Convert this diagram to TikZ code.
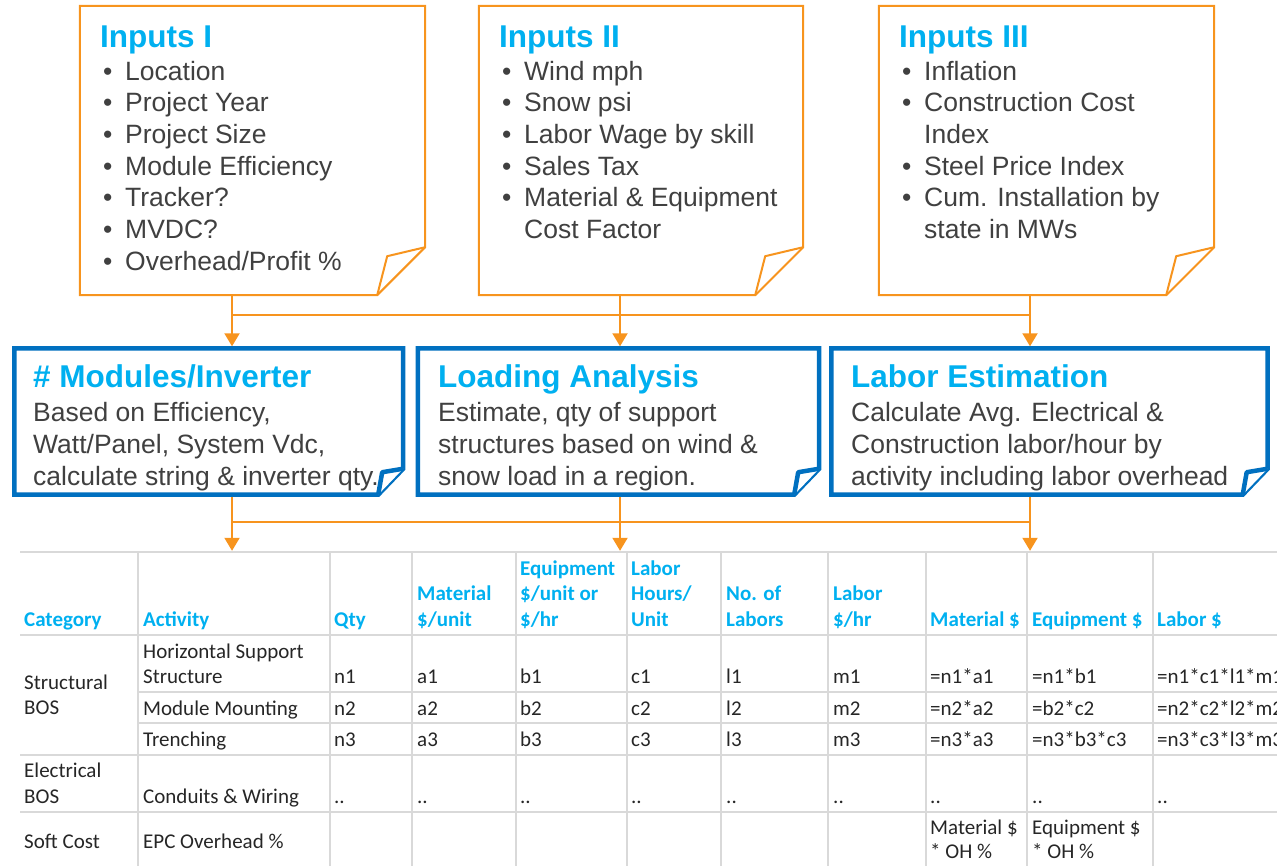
\documentclass[tikz,border=0pt]{standalone}
\usepackage{fontspec}
\setmainfont{Liberation Sans}
\newfontfamily\tablefont{Carlito}
\usetikzlibrary{arrows.meta,fit}

\definecolor{orangeline}{RGB}{247,148,30}
\definecolor{boxblue}{RGB}{0,112,192}
\definecolor{titlecyan}{RGB}{0,176,240}
\definecolor{bodygray}{RGB}{64,64,64}
\definecolor{gridgray}{RGB}{217,217,217}
\definecolor{celltext}{RGB}{38,38,38}

\newcommand\bul{\makebox[22pt][l]{•}}

\tikzset{
  region/.style={inner sep=0pt, draw=none},
  notebox/.style={draw=orangeline, line width=2pt, fill=white, line join=miter},
  notefold/.style={draw=orangeline, line width=2pt, line join=round},
  procbox/.style={draw=boxblue, line width=4.5pt, fill=white, line join=miter},
  procfold/.style={draw=boxblue, line width=4.5pt, line join=round},
  conn/.style={draw=orangeline, line width=2pt},
  arr/.style={conn, -{Triangle[width=15pt,length=13pt]}},
  gridline/.style={draw=gridgray, line width=2pt},
  boxtitle/.style={anchor=base west, inner sep=0pt, text=titlecyan,
    font=\fontsize{31.5}{36}\selectfont\bfseries},
  item/.style={anchor=base west, inner sep=0pt, text=bodygray,
    font=\fontsize{26.5}{31.7}\selectfont},
  hd/.style={anchor=base west, inner sep=0pt, text=titlecyan,
    font=\tablefont\fontsize{21}{25.5}\selectfont\bfseries},
  td/.style={anchor=base west, inner sep=0pt, text=celltext,
    font=\tablefont\fontsize{21}{25.5}\selectfont},
}

\begin{document}
\begin{tikzpicture}[x=1pt,y=-1pt]
\useasboundingbox (0,0) rectangle (1277,865);
\clip (0,0) rectangle (1277,865);

% ---------- input notes ----------
\node[region, fit={(80,6) (425,295)}] (in1) {};
\node[region, fit={(479,6) (803,295)}] (in2) {};
\node[region, fit={(879,6) (1214,295)}] (in3) {};

\foreach \b in {in1,in2,in3}{
  \draw[notebox] (\b.north west) -- (\b.north east)
    -- ([yshift=48pt]\b.south east) -- ([xshift=-48pt]\b.south east)
    -- (\b.south west) -- cycle;
  \draw[notefold] ([yshift=48pt]\b.south east)
    -- ([xshift=-38pt,yshift=39pt]\b.south east)
    -- ([xshift=-48pt]\b.south east);
}

\node[boxtitle] (t1) at (100,47) {Inputs I};
\node[item] (i11) at (103,80)    {\bul Location};
\node[item] (i12) at (103,111.7) {\bul Project Year};
\node[item] (i13) at (103,143.4) {\bul Project Size};
\node[item] (i14) at (103,175.1) {\bul Module Efficiency};
\node[item] (i15) at (103,206.8) {\bul Tracker?};
\node[item] (i16) at (103,238.5) {\bul MVDC?};
\node[item] (i17) at (103,270.2) {\bul Overhead/Profit \%};

\node[boxtitle] (t2) at (499,47) {Inputs II};
\node[item] (i21) at (502,80)    {\bul Wind mph};
\node[item] (i22) at (502,111.7) {\bul Snow psi};
\node[item] (i23) at (502,143.4) {\bul Labor Wage by skill};
\node[item] (i24) at (502,175.1) {\bul Sales Tax};
\node[item] (i25) at (502,206.8) {\bul Material \& Equipment};
\node[item] (i26) at (524,238.5) {Cost Factor};

\node[boxtitle] (t3) at (899,47) {Inputs III};
\node[item] (i31) at (902,80)    {\bul Inflation};
\node[item] (i32) at (902,111.7) {\bul Construction Cost};
\node[item] (i33) at (924,143.4) {Index};
\node[item] (i34) at (902,175.1) {\bul Steel Price Index};
\node[item] (i35) at (902,206.8) {\bul Cum. Installation by};
\node[item] (i36) at (924,238.5) {state in MWs};

% ---------- process boxes ----------
\node[region, fit={(14.5,348.5) (403,494.5)}] (mA) {};
\node[region, fit={(418,348.5) (819,494.5)}] (mB) {};
\node[region, fit={(831.5,348.5) (1267.5,494.5)}] (mC) {};

\foreach \b in {mA,mB,mC}{
  \draw[procbox] (\b.north west) -- (\b.north east)
    -- ([yshift=26pt]\b.south east) -- ([xshift=-25pt]\b.south east)
    -- (\b.south west) -- cycle;
}

\node[boxtitle] (tA) at (33,387) {\# Modules/Inverter};
\node[item] (a1) at (33,421) {Based on Efficiency,};
\node[item] (a2) at (33,453) {Watt/Panel, System Vdc,};
\node[item] (a3) at (33,485) {calculate string \& inverter qty.};

\node[boxtitle] (tB) at (438,387) {Loading Analysis};
\node[item] (b1) at (438,421) {Estimate, qty of support};
\node[item] (b2) at (438,453) {structures based on wind \&};
\node[item] (b3) at (438,485) {snow load in a region.};

\node[boxtitle] (tC) at (851,387) {Labor Estimation};
\node[item] (c1) at (851,421) {Calculate Avg. Electrical \&};
\node[item] (c2) at (851,453) {Construction labor/hour by};
\node[item] (c3) at (851,485) {activity including labor overhead};

\foreach \b in {mA,mB,mC}{
  \draw[procfold, fill=white] ([yshift=26pt]\b.south east)
    -- ([xshift=-21pt,yshift=22.5pt]\b.south east)
    -- ([xshift=-25pt]\b.south east);
}

% ---------- connectors ----------
\coordinate (upA) at (232,315);
\coordinate (upB) at (620,315);
\coordinate (upC) at (1030,315);
\coordinate (loA) at (232,522);
\coordinate (loB) at (620,522);
\coordinate (loC) at (1030,522);

\node[region, fit={(20,551) (1277,865)}] (tbl) {};

\draw[conn] (in1.south -| upA) -- (upA);
\draw[conn] (in2.south -| upB) -- (upB);
\draw[conn] (in3.south -| upC) -- (upC);
\draw[conn] (upA) -- (upC);
\draw[arr] (upA) -- ([yshift=2pt]mA.north -| upA);
\draw[arr] (upB) -- ([yshift=2pt]mB.north -| upB);
\draw[arr] (upC) -- ([yshift=2pt]mC.north -| upC);

\draw[conn] ([yshift=-2pt]mA.south -| loA) -- (loA);
\draw[conn] ([yshift=-2pt]mB.south -| loB) -- (loB);
\draw[conn] ([yshift=-2pt]mC.south -| loC) -- (loC);
\draw[conn] (loA) -- (loC);
\draw[arr] (loA) -- (tbl.north -| loA);
\draw[arr] (loB) -- (tbl.north -| loB);
\draw[arr] (loC) -- (tbl.north -| loC);

% ---------- cost table ----------
\draw[gridline] (20,552) -- (1277,552);
\draw[gridline] (20,635) -- (1277,635);
\draw[gridline] (138,692) -- (1277,692);
\draw[gridline] (138,723) -- (1277,723);
\draw[gridline] (20,755) -- (1277,755);
\draw[gridline] (20,812) -- (1277,812);
\foreach \x in {138,330,412,516,627,721,828,926,1027,1153}
  \draw[gridline] (\x,552) -- (\x,866);

% header
\node[hd] (h1) at (24,626) {Category};
\node[hd] (h2) at (143,626) {Activity};
\node[hd] (h3) at (334,626) {Qty};
\node[hd] (h4a) at (417,600.5) {Material};
\node[hd] (h4b) at (417,626) {\$/unit};
\node[hd] (h5a) at (520,575) {Equipment};
\node[hd] (h5b) at (520,600.5) {\$/unit or};
\node[hd] (h5c) at (520,626) {\$/hr};
\node[hd] (h6a) at (631,575) {Labor};
\node[hd] (h6b) at (631,600.5) {Hours/};
\node[hd] (h6c) at (631,626) {Unit};
\node[hd] (h7a) at (726,600.5) {No. of};
\node[hd] (h7b) at (726,626) {Labors};
\node[hd] (h8a) at (833,600.5) {Labor};
\node[hd] (h8b) at (833,626) {\$/hr};
\node[hd] (h9) at (930,626) {Material \$};
\node[hd] (h10) at (1032,626) {Equipment \$};
\node[hd] (h11) at (1157,626) {Labor \$};

% structural BOS
\node[td] (s1) at (24,689) {Structural};
\node[td] (s2) at (24,714) {BOS};
\node[td] (r1a) at (143,658) {Horizontal Support};
\node[td] (r1b) at (143,683) {Structure};
\foreach \x/\t in {334/n1,417/a1,520/b1,631/c1,726/l1,833/m1,930/=n1*a1,1032/=n1*b1,1157/=n1*c1*l1*m1}
  \node[td] (r1-\x) at (\x,683) {\t};
\node[td] (r2a) at (143,715) {Module Mounting};
\foreach \x/\t in {334/n2,417/a2,520/b2,631/c2,726/l2,833/m2,930/=n2*a2,1032/=b2*c2,1157/=n2*c2*l2*m2}
  \node[td] (r2-\x) at (\x,715) {\t};
\node[td] (r3a) at (143,746) {Trenching};
\foreach \x/\t in {334/n3,417/a3,520/b3,631/c3,726/l3,833/m3,930/=n3*a3,1032/=n3*b3*c3,1157/=n3*c3*l3*m3}
  \node[td] (r3-\x) at (\x,746) {\t};

% electrical BOS
\node[td] (e1) at (24,777) {Electrical};
\node[td] (e2) at (24,803) {BOS};
\node[td] (r4a) at (143,803) {Conduits \& Wiring};
\foreach \x in {334,417,520,631,726,833,930,1032,1157}
  \node[td] (r4-\x) at (\x,803) {..};

% soft cost
\node[td] (sc) at (24,848) {Soft Cost};
\node[td] (r5a) at (143,848) {EPC Overhead \%};
\node[td] (r5b) at (930,834) {Material \$};
\node[td] (r5c) at (930,858) {* OH \%};
\node[td] (r5d) at (1032,834) {Equipment \$};
\node[td] (r5e) at (1032,858) {* OH \%};
\end{tikzpicture}
\end{document}
